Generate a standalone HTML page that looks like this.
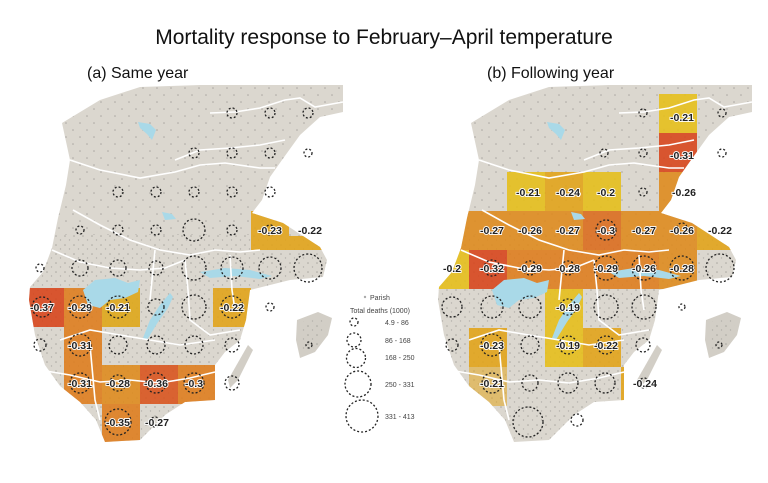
<!DOCTYPE html>
<html><head><meta charset="utf-8"><style>
html,body{margin:0;padding:0;background:#fff;}
svg{display:block;font-family:"Liberation Sans",sans-serif;}
.lab{font-size:10.5px;font-weight:bold;fill:#222;text-anchor:middle;stroke:#fff;stroke-width:1.8px;paint-order:stroke;}
.c{fill:none;stroke:#222;stroke-width:1.3;stroke-dasharray:2 2;}
.lg{font-size:7px;fill:#444;}
</style></head><body>
<svg width="768" height="483" viewBox="0 0 768 483">
<defs>
<path id="land" d="M62,123 L100,100 L140,87 L200,85 L343,85 L343,112 L320,117 L300,135 L282,160 L270,177 L262,200 L252,213 L283,223 L320,247 L327,260 L323,277 L290,280 L250,290 L246,320 L240,340 L225,352 L215,365 L215,400 L185,402 L165,415 L140,440 L105,442 L96,420 L80,402 L60,386 L45,365 L35,335 L29,300 L30,287 L43,272 L52,248 L58,218 L66,185 L70,160 Z"/>
<clipPath id="clip"><use href="#land"/></clipPath>
<pattern id="dots" width="9" height="9" patternUnits="userSpaceOnUse">
<circle cx="2" cy="2" r="0.8" fill="#a9a6a0"/><circle cx="6.5" cy="6" r="0.7" fill="#b3b0aa"/>
</pattern>
<pattern id="dots2" width="14" height="14" patternUnits="userSpaceOnUse">
<circle cx="3" cy="4" r="0.8" fill="#aaa7a1"/><circle cx="10" cy="11" r="0.8" fill="#aaa7a1"/>
</pattern>
<g id="base">
<use href="#land" fill="#dbd7cf"/>
<rect x="20" y="85" width="330" height="150" fill="url(#dots2)" clip-path="url(#clip)"/>
<rect x="20" y="235" width="320" height="215" fill="url(#dots)" clip-path="url(#clip)"/>
<path d="M297,320 L318,312 L332,318 L328,335 L315,352 L300,358 L296,340 Z" fill="#d2cec6"/>
<path d="M300,322 L328,318 L318,345 L302,352 Z" fill="url(#dots)"/>
<path d="M248,345 L253,350 L238,380 L230,388 L228,380 Z" fill="#d2cec6"/>
</g>
<g id="over">
<path d="M83,290 L95,280 L115,278 L128,283 L140,280 L138,292 L125,298 L110,300 L100,308 L88,305 Z" fill="#a9d9e8"/>
<path d="M170,293 L160,305 L150,320 L143,338 L147,340 L158,322 L168,308 L173,297 Z" fill="#a9d9e8"/>
<path d="M138,122 L150,124 L156,130 L152,140 L147,134 L140,128 Z" fill="#a9d9e8"/>
<path d="M162,212 L172,214 L176,219 L165,220 Z" fill="#a9d9e8"/>
<path d="M200,272 L225,268 L250,270 L272,276 L260,279 L235,276 L210,278 Z" fill="#a9d9e8"/>
<g fill="none" stroke="#fff" stroke-width="1.6">
<path d="M210,113 L235,112 L260,108 L285,100 L300,98 L315,107 L343,102"/>
<path d="M175,160 L200,150 L230,148 L260,145 L285,140"/>
<path d="M70,160 L100,170 L140,178 L175,172 L200,165 L225,163 L260,168 L275,168"/>
<path d="M73,210 L100,225 L130,240 L160,250 L190,255 L215,250 L240,252 L260,250"/>
<path d="M52,250 L80,262 L110,268 L140,270 L165,268 L185,260"/>
<path d="M155,250 L152,280 L150,300"/>
<path d="M185,260 L188,290 L190,320 L210,335 L240,330"/>
<path d="M60,340 L90,330 L120,335 L150,340 L180,345 L215,340"/>
<path d="M40,370 L70,375 L100,382 L130,380 L160,383 L190,378 L215,372"/>
<path d="M230,255 L232,290 L235,310"/>
<path d="M90,345 L95,400 L100,420"/>
</g>
</g>
</defs>

<text x="384" y="44" font-size="21" text-anchor="middle" fill="#111">Mortality response to February–April temperature</text>
<text x="87" y="78" font-size="16" fill="#111">(a) Same year</text>
<text x="487" y="78" font-size="16" fill="#111">(b) Following year</text>

<!-- LEFT MAP -->
<use href="#base"/>
<g clip-path="url(#clip)" opacity="0.88">
<rect x="26" y="288" width="38" height="39" fill="#d8441a"/>
<rect x="64" y="288" width="38" height="39" fill="#df7d1c"/>
<rect x="102" y="288" width="38" height="39" fill="#dfa716"/>
<rect x="64" y="327" width="38" height="77" fill="#df7d1c"/>
<rect x="102" y="365" width="38" height="39" fill="#df8a1c"/>
<rect x="140" y="365" width="38" height="39" fill="#d9531c"/>
<rect x="178" y="365" width="38" height="39" fill="#df7d1c"/>
<rect x="102" y="404" width="38" height="39" fill="#df7d1c"/>
<rect x="251" y="211" width="38" height="39" fill="#e2a317"/>
<rect x="289" y="236" width="38" height="14" fill="#e2a317"/>
<rect x="213" y="288" width="38" height="39" fill="#e2a317"/>
</g>
<use href="#over"/>
<g class="c">
<circle cx="232" cy="113" r="5"/><circle cx="270" cy="113" r="5"/><circle cx="308" cy="113" r="5"/>
<circle cx="194" cy="153" r="5"/><circle cx="232" cy="153" r="5"/><circle cx="270" cy="153" r="5"/><circle cx="308" cy="153" r="4"/>
<circle cx="118" cy="192" r="5"/><circle cx="156" cy="192" r="5"/><circle cx="194" cy="192" r="5"/><circle cx="232" cy="192" r="5"/><circle cx="270" cy="192" r="5"/>
<circle cx="80" cy="230" r="4"/><circle cx="118" cy="230" r="5"/><circle cx="156" cy="230" r="5"/><circle cx="194" cy="230" r="11"/><circle cx="232" cy="230" r="5"/><circle cx="270" cy="230" r="5"/>
<circle cx="40" cy="268" r="4"/><circle cx="80" cy="268" r="8"/><circle cx="118" cy="268" r="8"/><circle cx="156" cy="268" r="7"/><circle cx="194" cy="268" r="12"/><circle cx="232" cy="268" r="11"/><circle cx="270" cy="268" r="11"/><circle cx="308" cy="268" r="14"/>
<circle cx="42" cy="307" r="10"/><circle cx="80" cy="307" r="11"/><circle cx="118" cy="307" r="11"/><circle cx="156" cy="307" r="8"/><circle cx="194" cy="307" r="12"/><circle cx="232" cy="307" r="11"/><circle cx="270" cy="307" r="4"/>
<circle cx="40" cy="345" r="6"/><circle cx="80" cy="345" r="11"/><circle cx="118" cy="345" r="9"/><circle cx="156" cy="345" r="9"/><circle cx="194" cy="345" r="9"/><circle cx="232" cy="345" r="7"/>
<circle cx="80" cy="383" r="10"/><circle cx="118" cy="383" r="8"/><circle cx="156" cy="383" r="10"/><circle cx="194" cy="383" r="10"/><circle cx="232" cy="383" r="7"/>
<circle cx="118" cy="422" r="13"/><circle cx="155" cy="422" r="5"/>
<circle cx="309" cy="345" r="3"/>
</g>
<g class="lab">
<text x="270" y="234">-0.23</text><text x="310" y="234">-0.22</text>
<text x="42" y="311">-0.37</text><text x="80" y="311">-0.29</text><text x="118" y="311">-0.21</text><text x="232" y="311">-0.22</text>
<text x="80" y="349">-0.31</text>
<text x="80" y="387">-0.31</text><text x="118" y="387">-0.28</text><text x="156" y="387">-0.36</text><text x="194" y="387">-0.3</text>
<text x="118" y="426">-0.35</text><text x="157" y="426">-0.27</text>
</g>

<!-- LEGEND -->
<circle cx="365" cy="297" r="1.2" fill="#aaa"/>
<text class="lg" x="370" y="300">Parish</text>
<text class="lg" x="350" y="313">Total deaths (1000)</text>
<g class="c" stroke-width="1.1">
<circle cx="354" cy="322" r="4"/><circle cx="354" cy="340" r="7"/><circle cx="356" cy="358" r="9.5"/><circle cx="358" cy="384" r="13"/><circle cx="362" cy="416" r="16"/>
</g>
<text class="lg" x="385" y="325">4.9 - 86</text>
<text class="lg" x="385" y="343">86 - 168</text>
<text class="lg" x="385" y="360">168 - 250</text>
<text class="lg" x="385" y="387">250 - 331</text>
<text class="lg" x="385" y="419">331 - 413</text>

<!-- RIGHT MAP -->
<g transform="translate(409,0)">
<use href="#base"/>
<g clip-path="url(#clip)" opacity="0.88">
<rect x="250" y="94" width="38" height="39" fill="#e6bf18"/>
<rect x="250" y="133" width="38" height="39" fill="#d8441a"/>
<rect x="250" y="172" width="38" height="39" fill="#df8a1c"/>
<rect x="98" y="172" width="38" height="39" fill="#e6bf18"/>
<rect x="136" y="172" width="38" height="39" fill="#e2a317"/>
<rect x="174" y="172" width="38" height="39" fill="#e6bf18"/>
<rect x="20" y="211" width="306" height="39" fill="#df8a1c"/>
<rect x="174" y="211" width="38" height="39" fill="#dc6b1c"/>
<rect x="288" y="211" width="38" height="39" fill="#e2a317"/>
<rect x="20" y="250" width="40" height="39" fill="#e6bf18"/>
<rect x="60" y="250" width="38" height="39" fill="#d8441a"/>
<rect x="98" y="250" width="152" height="39" fill="#df7d1c"/>
<rect x="250" y="250" width="38" height="39" fill="#df8a1c"/>
<rect x="136" y="289" width="38" height="39" fill="#e6bf18"/>
<rect x="60" y="328" width="38" height="39" fill="#e2a317"/>
<rect x="136" y="328" width="38" height="39" fill="#e6bf18"/>
<rect x="174" y="328" width="38" height="39" fill="#e2a317"/>
<rect x="60" y="367" width="38" height="39" fill="#e2a317" opacity="0.6"/>
<rect x="212" y="367" width="38" height="39" fill="#e2a317"/>
</g>
<use href="#over"/>
</g>
<g class="c">
<circle cx="643" cy="113" r="4"/><circle cx="722" cy="113" r="4"/>
<circle cx="604" cy="153" r="4"/><circle cx="643" cy="153" r="4"/><circle cx="722" cy="153" r="4"/>
<circle cx="643" cy="192" r="4"/>
<circle cx="606" cy="230" r="10"/><circle cx="682" cy="228" r="5"/>
<circle cx="492" cy="268" r="8"/><circle cx="530" cy="268" r="7"/><circle cx="568" cy="268" r="7"/><circle cx="606" cy="268" r="12"/><circle cx="644" cy="268" r="12"/><circle cx="682" cy="268" r="12"/><circle cx="720" cy="268" r="14"/>
<circle cx="452" cy="307" r="10"/><circle cx="492" cy="307" r="11"/><circle cx="530" cy="307" r="11"/><circle cx="568" cy="307" r="8"/><circle cx="606" cy="307" r="12"/><circle cx="644" cy="307" r="12"/><circle cx="682" cy="307" r="3"/>
<circle cx="452" cy="345" r="6"/><circle cx="492" cy="345" r="11"/><circle cx="530" cy="345" r="9"/><circle cx="568" cy="345" r="9"/><circle cx="606" cy="345" r="9"/><circle cx="643" cy="345" r="7"/>
<circle cx="492" cy="383" r="10"/><circle cx="530" cy="383" r="8"/><circle cx="568" cy="383" r="10"/><circle cx="605" cy="383" r="10"/><circle cx="644" cy="383" r="5"/>
<circle cx="528" cy="422" r="15"/><circle cx="577" cy="420" r="6"/>
<circle cx="719" cy="345" r="3"/>
</g>
<g class="lab">
<text x="682" y="121">-0.21</text>
<text x="682" y="159">-0.31</text>
<text x="528" y="196">-0.21</text><text x="568" y="196">-0.24</text><text x="606" y="196">-0.2</text><text x="684" y="196">-0.26</text>
<text x="492" y="234">-0.27</text><text x="530" y="234">-0.26</text><text x="568" y="234">-0.27</text><text x="606" y="234">-0.3</text><text x="644" y="234">-0.27</text><text x="682" y="234">-0.26</text><text x="720" y="234">-0.22</text>
<text x="452" y="272">-0.2</text><text x="492" y="272">-0.32</text><text x="530" y="272">-0.29</text><text x="568" y="272">-0.28</text><text x="606" y="272">-0.29</text><text x="644" y="272">-0.26</text><text x="682" y="272">-0.28</text>
<text x="568" y="311">-0.19</text>
<text x="492" y="349">-0.23</text><text x="568" y="349">-0.19</text><text x="606" y="349">-0.22</text>
<text x="492" y="387">-0.21</text><text x="645" y="387">-0.24</text>
</g>
</svg>
</body></html>
